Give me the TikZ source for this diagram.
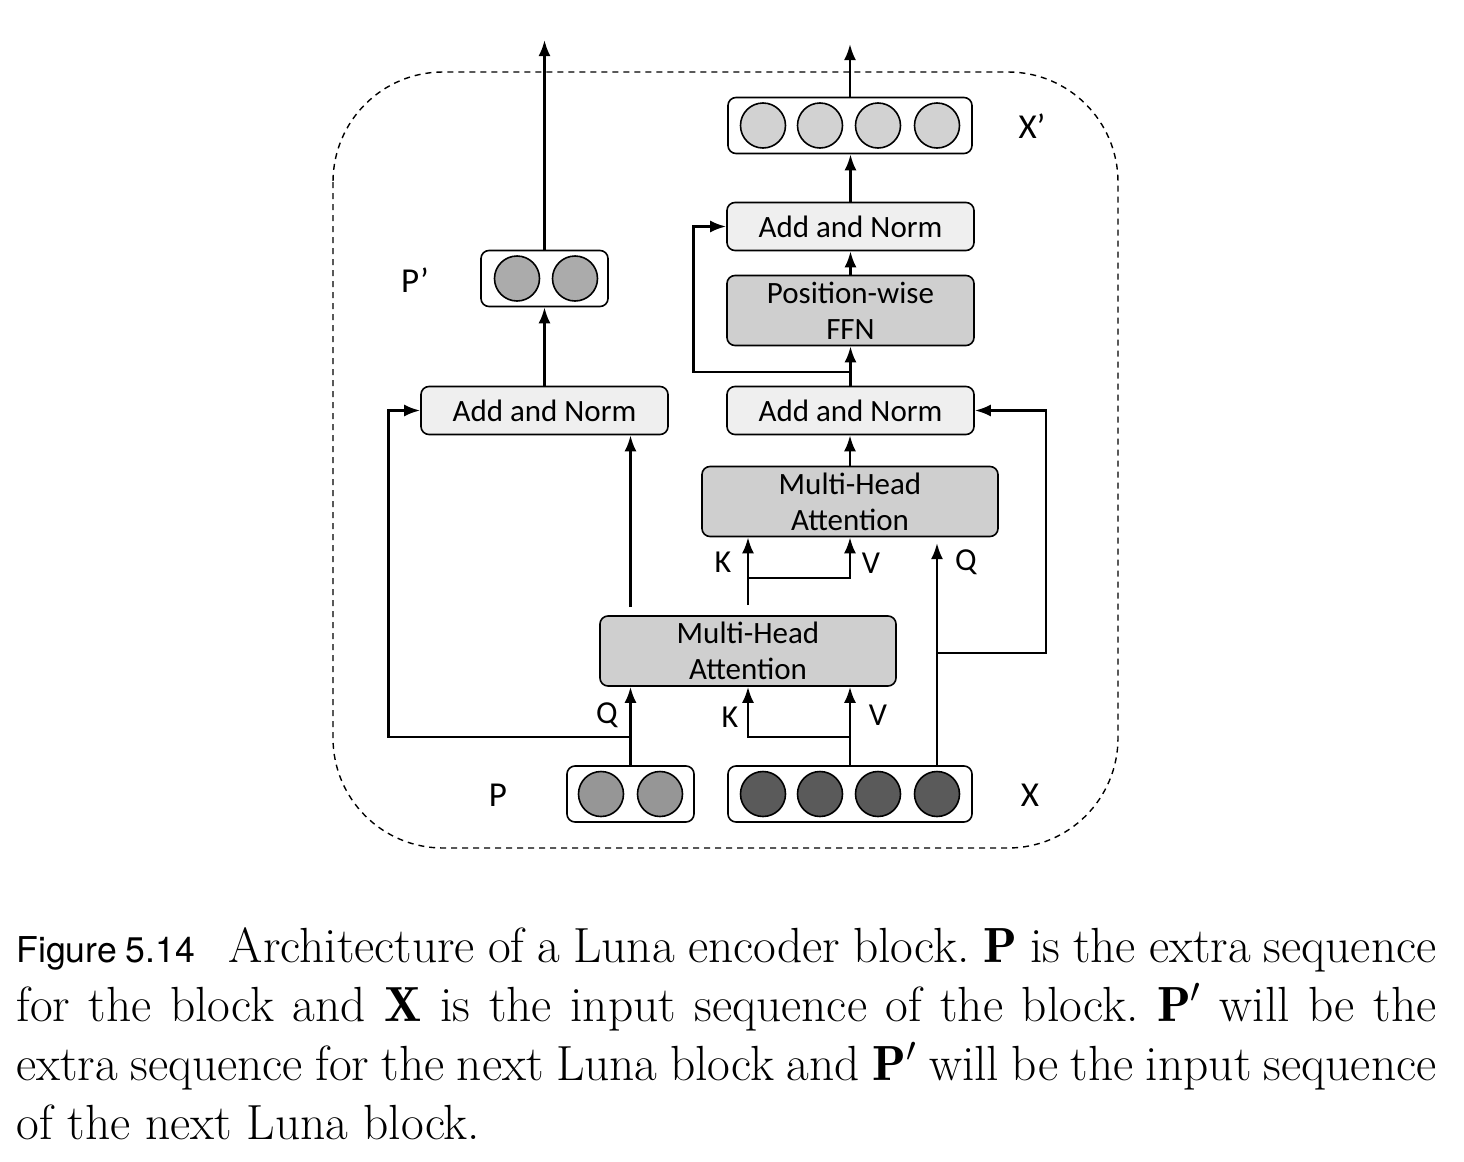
\documentclass[tikz,border=0pt]{standalone}
\usepackage{fontspec}
\usetikzlibrary{arrows.meta}
\newfontfamily\lblfont{Carlito}
\newfontfamily\capsffont{TeX Gyre Heros}
\definecolor{boxlight}{HTML}{EFEFEF}
\definecolor{boxdark}{HTML}{CFCFCF}
\definecolor{cxp}{HTML}{D2D2D2}
\definecolor{cpp}{HTML}{ABABAB}
\definecolor{cp}{HTML}{969696}
\definecolor{cx}{HTML}{5A5A5A}
\tikzset{
  lbl/.style={font={\lblfont\fontsize{16}{18}\selectfont}, inner sep=0pt},
  biglbl/.style={font={\lblfont\fontsize{17.5}{20}\selectfont}, inner sep=0pt},
  blk/.style={draw, rounded corners=4pt, line width=0.8pt, inner sep=0pt, align=center,
    font={\lblfont\fontsize{15.5}{18}\selectfont}, minimum width=123.5pt},
  addnorm/.style={blk, fill=boxlight, minimum height=24pt},
  heavy/.style={blk, fill=boxdark, minimum height=35pt},
  vec/.style={draw, fill=white, rounded corners=4pt, line width=0.8pt, inner sep=0pt, minimum height=28pt},
  dot/.style={circle, draw, line width=0.8pt, minimum size=22.5pt, inner sep=0pt},
  arr/.style={-{Latex[length=8pt,width=6pt]}, line width=1.3pt},
}
\begin{document}
\begin{tikzpicture}[x=0.5pt,y=-0.5pt]
\useasboundingbox (0,0) rectangle (1464,1162);
% frame
\draw[dash pattern=on 3pt off 2.5pt, line width=0.7pt, rounded corners=55pt] (333,72) rectangle (1118,848);

% vector boxes
\node[vec, minimum width=63.5pt] (pbox) at (630.5,794) {};
\node[dot, fill=cp] (p1) at (601,794) {};
\node[dot, fill=cp] (p2) at (660,794) {};
\node[vec, minimum width=122pt] (xbox) at (850,794) {};
\node[dot, fill=cx] (x1) at (763,794) {};
\node[dot, fill=cx] (x2) at (820,794) {};
\node[dot, fill=cx] (x3) at (878,794) {};
\node[dot, fill=cx] (x4) at (937,794) {};
\node[vec, minimum width=63.5pt] (ppbox) at (544.5,278.5) {};
\node[dot, fill=cpp] (pp1) at (517,278.5) {};
\node[dot, fill=cpp] (pp2) at (575,278.5) {};
\node[vec, minimum width=122pt] (xpbox) at (850,125.5) {};
\node[dot, fill=cxp] (xp1) at (763,125.5) {};
\node[dot, fill=cxp] (xp2) at (820,125.5) {};
\node[dot, fill=cxp] (xp3) at (878,125.5) {};
\node[dot, fill=cxp] (xp4) at (937,125.5) {};

% side labels
\node[biglbl] (lp) at (498,795) {P};
\node[biglbl] (lx) at (1030,795) {X};
\node[biglbl] (lpp) at (415,280) {P’};
\node[biglbl] (lxp) at (1032,126) {X’};

% blocks
\node[heavy, minimum width=148pt] (mha1) at (748,651) {Multi-Head\\Attention};
\node[heavy, minimum width=148pt] (mha2) at (850,501.5) {Multi-Head\\Attention};
\node[addnorm] (an1) at (544.5,410.5) {Add and Norm};
\node[addnorm] (an2) at (850.5,410.5) {Add and Norm};
\node[heavy] (ffn) at (850.5,310.5) {Position-wise\\FFN};
\node[addnorm] (an3) at (850.5,226.5) {Add and Norm};

% helper coordinates
\coordinate (qs) at (630.5,737);
\coordinate (ks) at (850,737);
\coordinate (q2s) at (937,766);
\coordinate (q2e) at (937,543);
\coordinate (q2b) at (937,653);
\coordinate (m1a) at (630.5,607);
\coordinate (m1b) at (748,605);
\coordinate (kv) at (748,578);
\coordinate (fs) at (850.5,372);
\coordinate (outP) at (544.5,40);
\coordinate (outX) at (850,44);

% connectors
\draw[arr] (pbox.north) -- (pbox.north |- mha1.south);
\draw[arr] (qs) -| ([xshift=-16pt]an1.west) -- (an1.west);
\draw[arr] (xbox.north) -- (xbox.north |- mha1.south);
\draw[arr] (ks) -| (mha1.south);
\draw[arr] (q2s) -- (q2e);
\draw[arr] (q2b) -| ([xshift=35.5pt]an2.east) -- (an2.east);
\draw[arr] (m1a) -- (m1a |- an1.south);
\draw[arr] (m1b) -- (m1b |- mha2.south);
\draw[arr] (kv) -| (mha2.south);
\draw[arr] (mha2.north) -- (mha2.north |- an2.south);
\draw[arr] (an2.north) -- (ffn.south);
\draw[arr] (fs) -| ([xshift=-16.5pt]an3.west) -- (an3.west);
\draw[arr] (ffn.north) -- (an3.south);
\draw[arr] (an3.north) -- (an3.north |- xpbox.south);
\draw[arr] (an1.north) -- (ppbox.south);
\draw[arr] (ppbox.north) -- (outP);
\draw[arr] (xpbox.north) -- (outX);

% arrow labels
\node[lbl] (lq1) at (607,715) {Q};
\node[lbl] (lk1) at (730,717) {K};
\node[lbl] (lv1) at (878,715) {V};
\node[lbl] (lk2) at (723,562) {K};
\node[lbl] (lv2) at (871,563) {V};
\node[lbl] (lq2) at (966,562) {Q};

% caption
\node[anchor=base west, inner sep=0pt, text width=710pt, align=justify,
  font={\fontsize{24.7}{29.5}\selectfont\frenchspacing}] (cap) at (16,962)
  {{\capsffont\fontsize{17.8}{20}\selectfont Figure 5.14}\hspace{17pt}Architecture of a Luna encoder block. $\mathbf{P}$ is the extra sequence\linebreak
   for the block and $\mathbf{X}$ is the input sequence of the block. $\mathbf{P}'$ will be the\linebreak
   extra sequence for the next Luna block and $\mathbf{P}'$ will be the input sequence\linebreak
   of the next Luna block.};
\end{tikzpicture}
\end{document}
